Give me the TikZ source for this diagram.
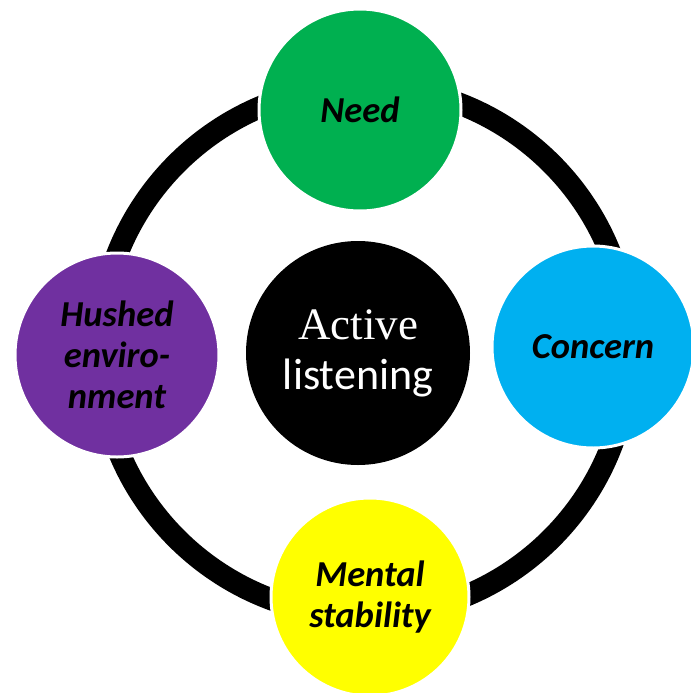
\documentclass[tikz,border=0pt]{standalone}
\usepackage{fontspec}
\setmainfont{Carlito}
\newfontfamily\serifface{Liberation Serif}
\begin{document}
\begin{tikzpicture}[x=0.75pt,y=-0.75pt,
  bubble/.style={circle, draw=white, line width=2.25pt, inner sep=0pt,
                 minimum size=#1*1.5pt, align=center},
  outerlabel/.style={font=\fontsize{27.4}{30.6}\selectfont\bfseries\itshape, text=black},
  ring/.style={line width=16.5pt, draw=black}
]
\definecolor{needgreen}{RGB}{0,176,80}
\definecolor{concernblue}{RGB}{0,176,240}
\definecolor{stableyellow}{RGB}{255,255,0}
\definecolor{hushpurple}{RGB}{112,48,160}

\useasboundingbox (0,0) rectangle (691,693);
\clip (0,0) rectangle (691,693);

% the cycle ring behind the bubbles
\coordinate (hub) at (364,351);
\draw[ring] (hub) circle[radius=265];

% outer bubbles
\node[bubble=101, fill=needgreen, outerlabel] (need) at (360,110) {Need};
\node[bubble=101, fill=concernblue, outerlabel] (concern) at (593,347) {Concern};
\node[bubble=99, fill=stableyellow, outerlabel] (mental) at (370,597) {Mental\\stability};
\node[bubble=102, fill=hushpurple, outerlabel] (hushed) at (117,355) {Hushed\\enviro-\\nment};

% centre bubble
\node[bubble=112, fill=black, draw=none, text=white,
      font=\fontsize{33}{37.5}\selectfont] (active) at (358,353)
  {{\serifface\fontsize{33.75}{37.5}\selectfont Active}\\listening};
\end{tikzpicture}
\end{document}
